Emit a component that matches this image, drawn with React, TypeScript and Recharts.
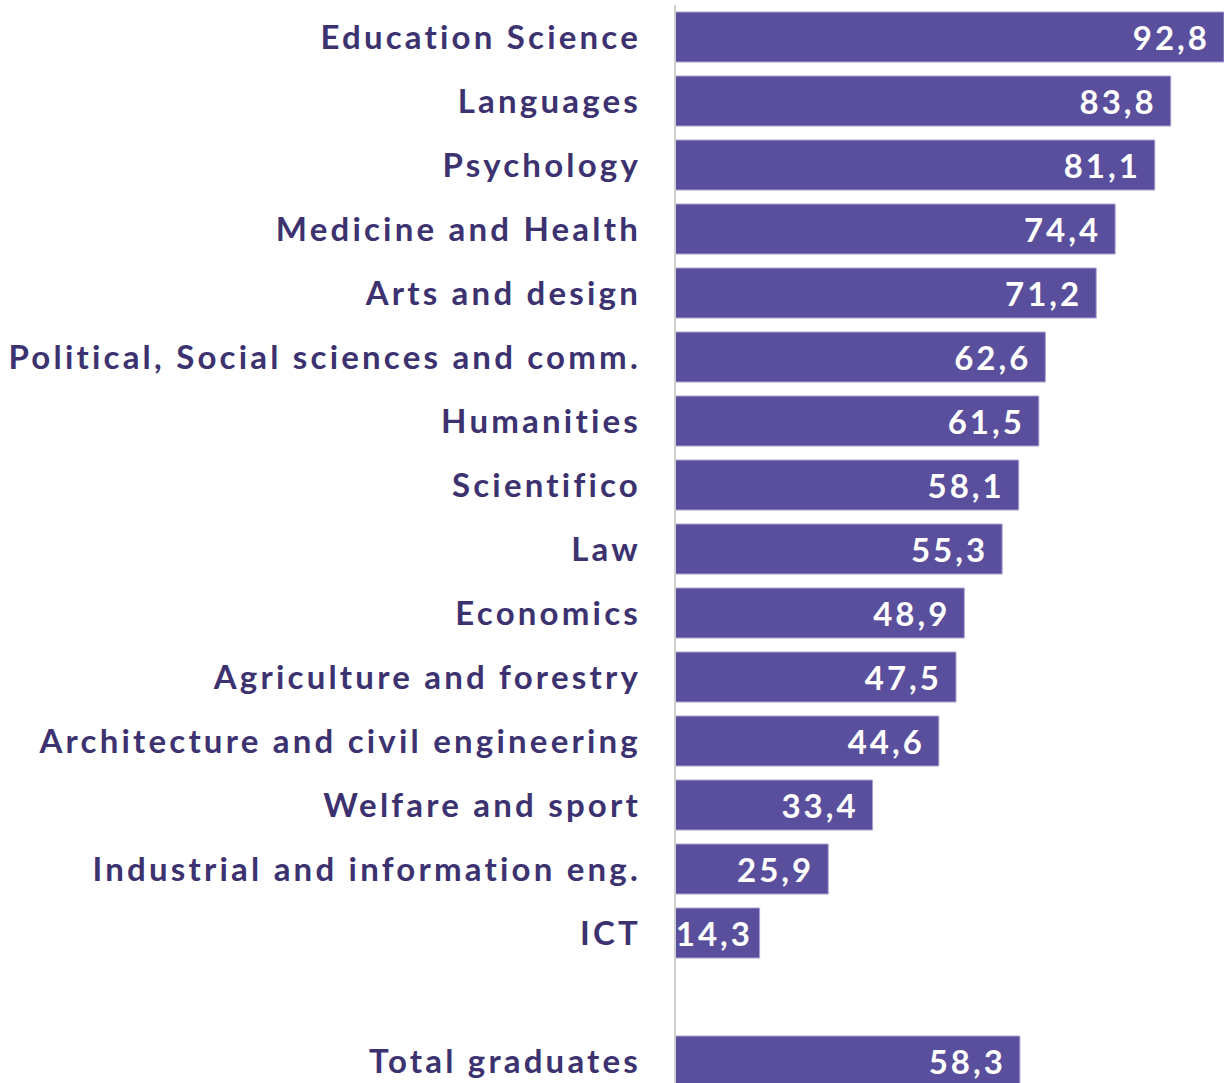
import { Bar, BarChart, LabelList, XAxis, YAxis } from 'recharts';

const fields = [
  'Education Science',
  'Languages',
  'Psychology',
  'Medicine and Health',
  'Arts and design',
  'Political, Social sciences and comm.',
  'Humanities',
  'Scientifico',
  'Law',
  'Economics',
  'Agriculture and forestry',
  'Architecture and civil engineering',
  'Welfare and sport',
  'Industrial and information eng.',
  'ICT',
  '',
  'Total graduates',
];

const shares: (number | null)[] = [
  92.8, 83.8, 81.1, 74.4, 71.2, 62.6, 61.5, 58.1, 55.3, 48.9, 47.5, 44.6, 33.4, 25.9, 14.3, null, 58.3,
];

const data = fields.map((name, i) => ({ name, value: shares[i] }));

const FONT = 'Lato, sans-serif';

// value label sits right-aligned in the bar, but never spills past the bar's left edge
const ValueLabel = (props: any) => {
  const { x, y, width, height, value } = props;
  if (value == null) return null;
  const right = Math.max(x + width - 14, x + 78);
  return (
    <text
      x={right}
      y={y + height / 2}
      textAnchor="end"
      dominantBaseline="central"
      fill="#ffffff"
      fontSize={33}
      fontWeight={700}
      fontFamily={FONT}
      letterSpacing={3}
    >
      {Number(value).toFixed(1).replace('.', ',')}
    </text>
  );
};

export default function App() {
  return (
    <>
      <style>{'html,body{margin:0;padding:0;overflow:hidden;}'}</style>
      <div style={{ width: 1224, height: 1083, overflow: 'hidden' }}>
        <BarChart
          width={1224}
          height={1093}
          data={data}
          layout="vertical"
          margin={{ top: 5, right: 0, bottom: 0, left: 0 }}
        >
          <XAxis type="number" domain={[0, 92.8]} hide />
          <YAxis
            type="category"
            dataKey="name"
            width={675}
            tickLine={false}
            axisLine={{ stroke: '#d0d0d0', strokeWidth: 2 }}
            tickMargin={28}
            interval={0}
            tick={{ fill: '#3d3270', fontSize: 33, fontWeight: 700, fontFamily: FONT, letterSpacing: 3.2 }}
          />
          <Bar
            dataKey="value"
            fill="#5a4f9c"
            stroke="#a9a2d0"
            strokeWidth={1}
            barSize={50}
            isAnimationActive={false}
          >
            <LabelList dataKey="value" content={ValueLabel} />
          </Bar>
        </BarChart>
      </div>
    </>
  );
}
